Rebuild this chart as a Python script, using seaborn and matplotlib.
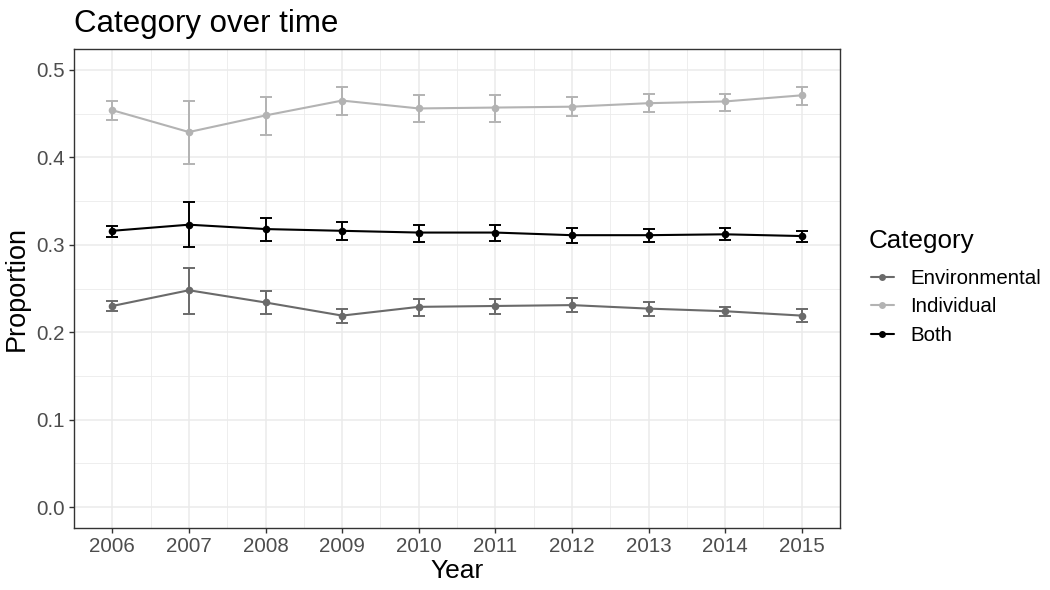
import matplotlib
matplotlib.use("Agg")
import matplotlib.pyplot as plt
import seaborn as sns
import pandas as pd
import numpy as np
from matplotlib.lines import Line2D
from matplotlib.ticker import MultipleLocator

years = [2006, 2007, 2008, 2009, 2010, 2011, 2012, 2013, 2014, 2015]
categories = ["Environmental", "Individual", "Both"]

env = [0.230, 0.248, 0.234, 0.219, 0.229, 0.230, 0.231, 0.227, 0.224, 0.219]
env_lo = [0.224, 0.221, 0.221, 0.210, 0.219, 0.221, 0.223, 0.219, 0.218, 0.212]
env_hi = [0.236, 0.274, 0.247, 0.227, 0.238, 0.238, 0.239, 0.234, 0.229, 0.226]

ind = [0.454, 0.429, 0.448, 0.465, 0.456, 0.457, 0.458, 0.462, 0.464, 0.471]
ind_lo = [0.443, 0.393, 0.426, 0.449, 0.440, 0.441, 0.447, 0.452, 0.453, 0.460]
ind_hi = [0.464, 0.465, 0.469, 0.481, 0.471, 0.471, 0.469, 0.472, 0.473, 0.481]

both = [0.316, 0.323, 0.318, 0.316, 0.314, 0.314, 0.311, 0.311, 0.312, 0.310]
both_lo = [0.309, 0.298, 0.304, 0.306, 0.303, 0.304, 0.302, 0.303, 0.306, 0.303]
both_hi = [0.322, 0.349, 0.331, 0.326, 0.323, 0.323, 0.319, 0.318, 0.319, 0.316]

colors = {"Environmental": "#6a6a6a", "Individual": "#b3b3b3", "Both": "#000000"}

rows = []
for cat, vals, lo, hi in [("Environmental", env, env_lo, env_hi),
                          ("Individual", ind, ind_lo, ind_hi),
                          ("Both", both, both_lo, both_hi)]:
    for y, v, l, h in zip(years, vals, lo, hi):
        rows.append({"Year": y, "Proportion": v, "lo": l, "hi": h, "Category": cat})
df = pd.DataFrame(rows)

sns.set_theme(style="white")
plt.rcParams["font.family"] = ["Liberation Sans", "DejaVu Sans"]
plt.rcParams["text.color"] = "black"

fig = plt.figure(figsize=(10.5, 5.9), dpi=100)
ax = fig.add_axes([74 / 1050, 1 - 528 / 590, (840 - 74) / 1050, (528 - 49) / 590])

# grid
ax.set_axisbelow(True)
ax.xaxis.set_major_locator(MultipleLocator(1))
ax.xaxis.set_minor_locator(MultipleLocator(0.5))
ax.yaxis.set_major_locator(MultipleLocator(0.1))
ax.yaxis.set_minor_locator(MultipleLocator(0.05))
ax.grid(which="major", color="#ebebeb", linewidth=1.1)
ax.grid(which="minor", color="#ebebeb", linewidth=0.6)

for cat in categories:
    sub = df[df["Category"] == cat]
    ax.errorbar(sub["Year"], sub["Proportion"],
                yerr=[sub["Proportion"] - sub["lo"], sub["hi"] - sub["Proportion"]],
                fmt="none", ecolor=colors[cat], elinewidth=1.4, capsize=4, capthick=1.4, zorder=3)

sns.lineplot(data=df, x="Year", y="Proportion", hue="Category", hue_order=categories,
             palette=colors, marker="o", markersize=5.5, markeredgewidth=0,
             linewidth=1.5, ax=ax, legend=False, zorder=4)

ax.set_xlim(2005.5, 2015.5)
ax.set_ylim(-0.024, 0.524)
ax.set_xticks(years)
ax.set_xticklabels([str(y) for y in years])
ax.set_yticks([0.0, 0.1, 0.2, 0.3, 0.4, 0.5])
ax.set_yticklabels(["0.0", "0.1", "0.2", "0.3", "0.4", "0.5"])

ax.tick_params(axis="both", which="major", length=3.6, width=1, color="#333333",
               labelsize=14.8, labelcolor="#4d4d4d", pad=3, bottom=True, left=True)
ax.tick_params(axis="both", which="minor", length=0)
for s in ax.spines.values():
    s.set_color("#333333")
    s.set_linewidth(1.0)

ax.set_xlabel("Year", fontsize=19, color="black", labelpad=2)
ax.set_ylabel("Proportion", fontsize=19.5, color="black", labelpad=5)
fig.text(74 / 1050, 1 - 24 / 590, "Category over time", fontsize=22.5, ha="left", va="center",
         color="black")

# legend
fig.text(869 / 1050, 1 - 241 / 590, "Category", fontsize=18.7, ha="left", va="center", color="black")
handles = [Line2D([0], [0], color=colors[c], marker="o", markersize=5, markeredgewidth=0, linewidth=1.5)
           for c in categories]
leg = fig.legend(handles, categories, loc="center left",
                 bbox_to_anchor=(871 / 1050, 1 - 307 / 590), frameon=False,
                 borderpad=0, borderaxespad=0,
                 fontsize=14.8, handlelength=1.1, labelspacing=0.45,
                 handletextpad=0.8, labelcolor="black")

fig.savefig("out.png", dpi=100)
